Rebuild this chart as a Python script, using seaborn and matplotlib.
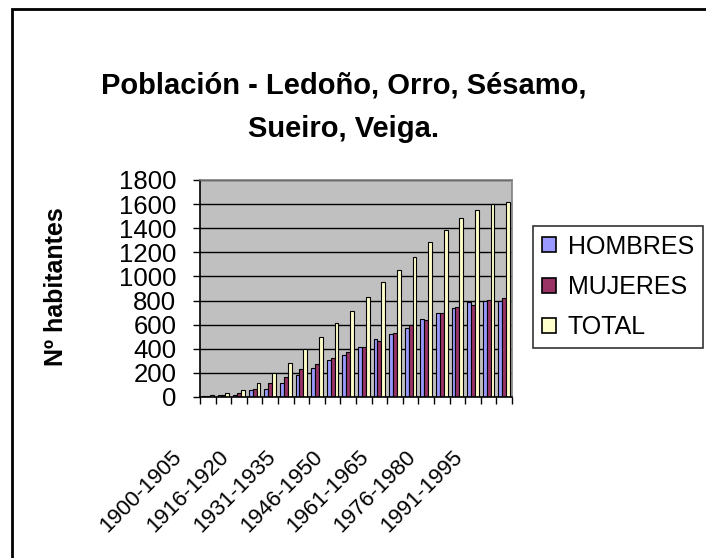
import numpy as np
import pandas as pd
import matplotlib
matplotlib.use("Agg")
import matplotlib.pyplot as plt
import matplotlib.transforms as mtransforms
from matplotlib.patches import Patch, Rectangle
import seaborn as sns

periodos = [
    "1900-1905", "1906-1910", "1911-1915", "1916-1920", "1921-1925",
    "1926-1930", "1931-1935", "1936-1940", "1941-1945", "1946-1950",
    "1951-1955", "1956-1960", "1961-1965", "1966-1970", "1971-1975",
    "1976-1980", "1981-1985", "1986-1990", "1991-1995", "1996-2000",
]
hombres = [8, 17, 20, 55, 70, 120, 185, 240, 305, 350,
           415, 480, 520, 570, 650, 700, 735, 785, 800, 800]
mujeres = [8, 17, 35, 70, 120, 165, 230, 270, 320, 370,
           415, 465, 530, 595, 635, 700, 750, 765, 805, 820]
total = [16, 36, 55, 120, 195, 285, 400, 500, 615, 715,
         830, 950, 1050, 1165, 1285, 1385, 1485, 1550, 1605, 1620]
series = ["HOMBRES", "MUJERES", "TOTAL"]
colores = ["#9999FF", "#993366", "#FFFFCC"]
etiquetas_x = ["1900-1905", "1916-1920", "1931-1935", "1946-1950",
               "1961-1965", "1976-1980", "1991-1995"]

df = pd.DataFrame({
    "periodo": periodos * 3,
    "habitantes": hombres + mujeres + total,
    "serie": np.repeat(series, len(periodos)),
})

plt.rcParams["font.family"] = ["Liberation Sans", "DejaVu Sans"]

W, H = 706, 558
fig = plt.figure(figsize=(W / 100, H / 100), dpi=100)
ax = fig.add_axes([200 / W, 1 - 397 / H, 312 / W, 217 / H])
ax.set_facecolor("#C0C0C0")

sns.barplot(
    data=df, x="periodo", y="habitantes", hue="serie",
    hue_order=series, palette=colores, order=periodos,
    edgecolor="black", linewidth=0.8, width=0.75, saturation=1,
    legend=False, ax=ax,
)

ax.set_xlim(-0.5, len(periodos) - 0.5)
ax.set_ylim(0, 1800)
ax.set_yticks(np.arange(0, 1801, 200))
ax.tick_params(axis="y", labelsize=18.5, length=5, width=1, direction="out", pad=12)
ax.set_axisbelow(True)
ax.yaxis.grid(True, color="black", linewidth=1)
ax.xaxis.grid(False)

# ticks at category boundaries, labels every third category
ax.set_xticks(np.arange(-0.5, len(periodos), 1), minor=True)
ax.tick_params(axis="x", which="minor", length=5, width=1, direction="out")
pos = [periodos.index(e) for e in etiquetas_x]
ax.set_xticks(pos)
ax.set_xticklabels(etiquetas_x, rotation=45, ha="right", va="center",
                   rotation_mode="anchor", fontsize=16)
ax.tick_params(axis="x", which="major", length=0, pad=41)
offset = mtransforms.ScaledTranslation(-29 / 100, 0, fig.dpi_scale_trans)
for lab in ax.xaxis.get_majorticklabels():
    lab.set_transform(lab.get_transform() + offset)

ax.set_xlabel("")
ax.set_ylabel("Nº habitantes", fontsize=18, fontweight="bold")
ax.yaxis.set_label_coords(68 / W, 1 - 287 / H, transform=fig.transFigure)

for s in ["left", "bottom"]:
    ax.spines[s].set_color("black")
    ax.spines[s].set_linewidth(1.2)
for s in ["top", "right"]:
    ax.spines[s].set_color("#808080")
    ax.spines[s].set_linewidth(1.2)

fig.text(344 / W, 1 - 107 / H, "Población - Ledoño, Orro, Sésamo,\nSueiro, Veiga.",
         ha="center", va="center", fontsize=21, fontweight="bold", linespacing=1.7)

handles = [Patch(facecolor=c, edgecolor="black", linewidth=1.2) for c in colores]
leg = fig.legend(handles, series, loc="upper left",
                 bbox_to_anchor=(533 / W, 1 - 226 / H), fontsize=18,
                 frameon=True, fancybox=False, edgecolor="black",
                 handlelength=0.55, handleheight=0.55, handletextpad=0.5,
                 labelspacing=0.65, borderpad=0.35, borderaxespad=0)
leg.get_frame().set_linewidth(1.2)

# outer chart frame (cut off at right and bottom)
fig.patches.append(Rectangle((11.5 / W, -0.1), 1.2, 1 - 9 / H + 0.1,
                             transform=fig.transFigure, fill=False,
                             edgecolor="black", linewidth=2))

fig.savefig("out.png", dpi=100)
